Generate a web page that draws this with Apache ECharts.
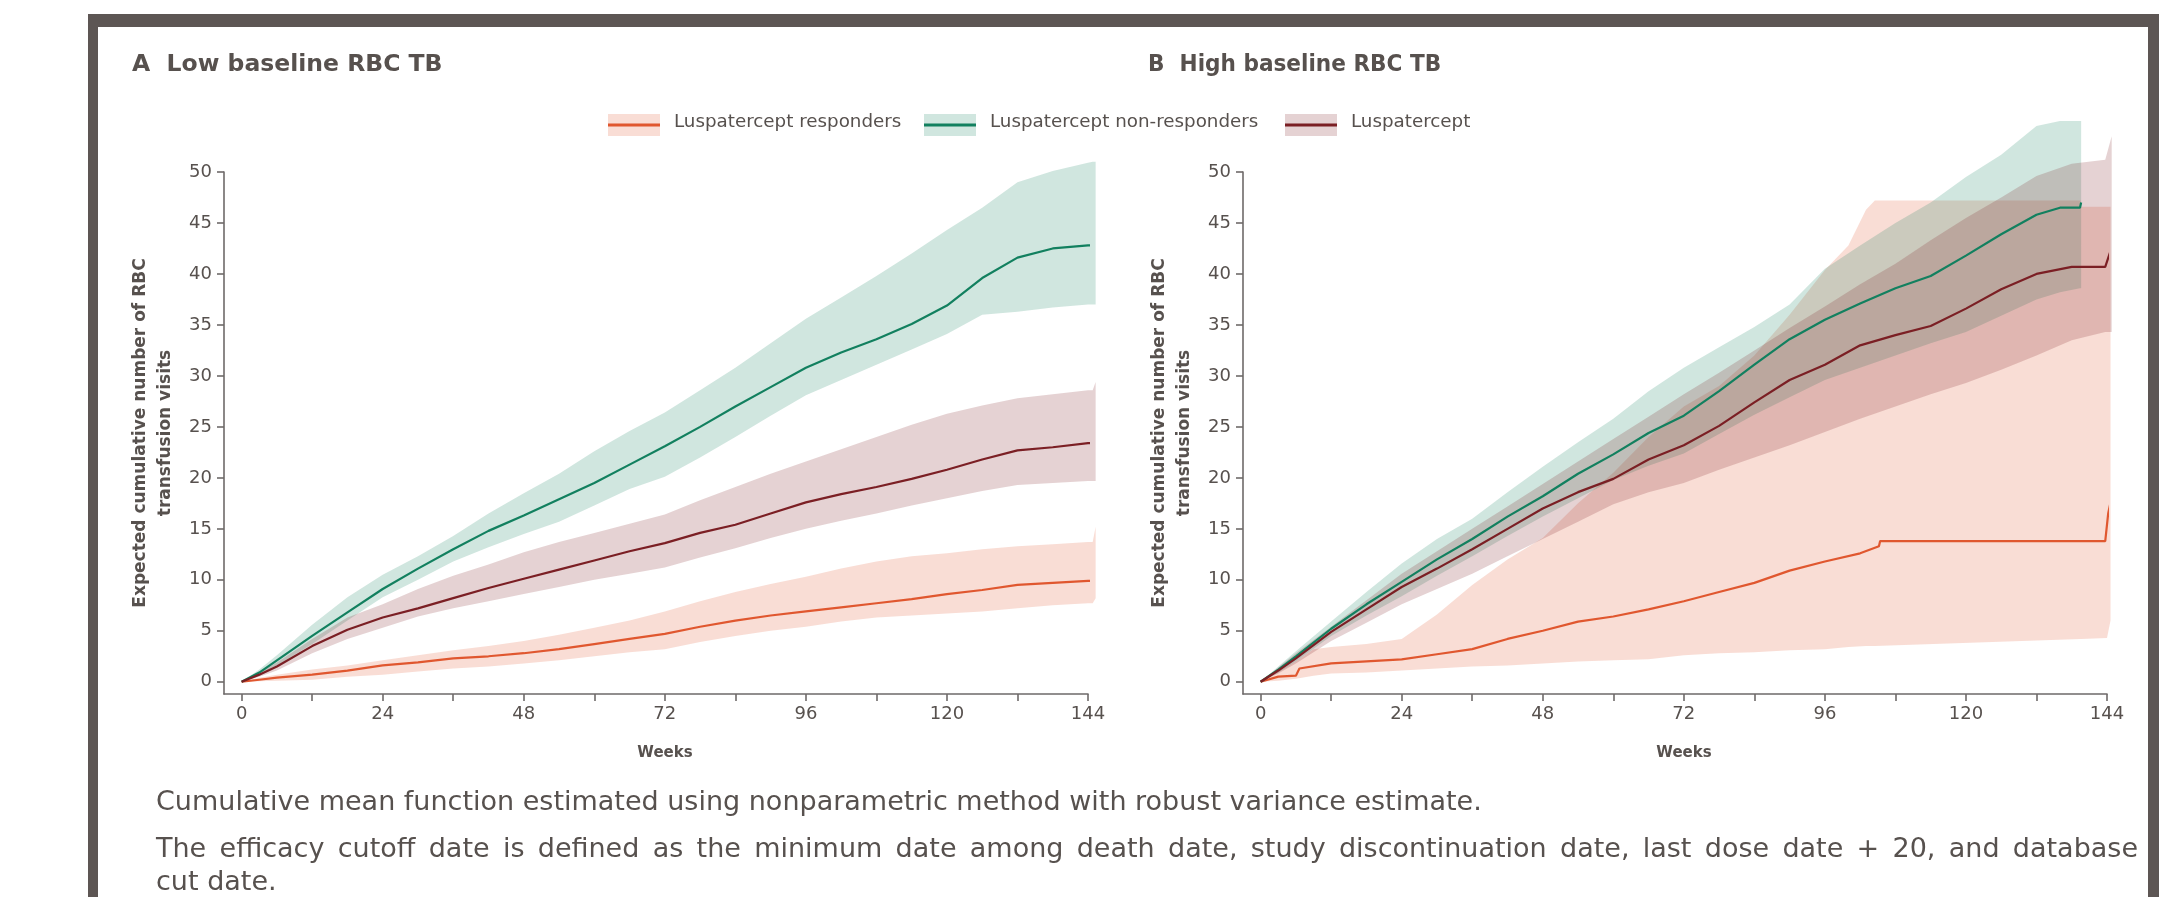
<!DOCTYPE html>
<html>
<head>
<meta charset="utf-8">
<script src="https://cdn.jsdelivr.net/npm/echarts@6/dist/echarts.min.js"></script>
<style>
html,body{margin:0;padding:0;background:#ffffff;}
#chart{width:2184px;height:897px;}
</style>
</head>
<body>
<div id="chart"></div>
<script>
// ---------------- DATA ----------------
const seriesNames = ['Luspatercept responders', 'Luspatercept non-responders', 'Luspatercept'];
const panelTitles = ['A  Low baseline RBC TB', 'B  High baseline RBC TB'];
const xTickValues = [0, 12, 24, 36, 48, 60, 72, 84, 96, 108, 120, 132, 144];
const xLabelValues = [0, 24, 48, 72, 96, 120, 144];
const yTickValues = [0, 5, 10, 15, 20, 25, 30, 35, 40, 45, 50];
const footnotes = [
  'Cumulative mean function estimated using nonparametric method with robust variance estimate.',
  'The efficacy cutoff date is defined as the minimum date among death date, study discontinuation date, last dose date + 20, and database',
  'cut date.'
];

// Panel A – low baseline RBC TB (weeks)
const weeksA = [0,3,6,12,18,24,30,36,42,48,54,60,66,72,78,84,90,96,102,108,114,120,126,132,138,144,144.8,145.3];
const aRespMean = [0,0.2,0.4,0.7,1.1,1.6,1.9,2.3,2.5,2.8,3.2,3.7,4.2,4.7,5.4,6.0,6.5,6.9,7.3,7.7,8.1,8.6,9.0,9.5,9.7,9.9,9.9,11.0];
const aRespHigh = [0,0.4,0.7,1.2,1.6,2.1,2.6,3.1,3.5,4.0,4.6,5.3,6.0,6.9,7.9,8.8,9.6,10.3,11.1,11.8,12.3,12.6,13.0,13.3,13.5,13.7,13.7,15.2];
const aRespLow  = [0,0.05,0.1,0.2,0.5,0.7,1.0,1.3,1.5,1.8,2.1,2.5,2.9,3.2,3.9,4.5,5.0,5.4,5.9,6.3,6.5,6.7,6.9,7.2,7.5,7.7,7.7,8.2];
const aNonMean  = [0,0.9,2.1,4.5,6.8,9.1,11.1,13.0,14.8,16.3,17.9,19.5,21.3,23.1,25.0,27.0,28.9,30.8,32.3,33.6,35.1,36.9,39.6,41.6,42.5,42.8,42.8,43.3];
const aNonHigh  = [0,1.2,2.6,5.6,8.3,10.5,12.3,14.3,16.5,18.5,20.4,22.6,24.6,26.4,28.6,30.8,33.2,35.6,37.7,39.8,42.0,44.3,46.5,49.0,50.1,50.9,51.0,51.0];
const aNonLow   = [0,0.6,1.6,3.7,6.0,8.3,10.0,11.8,13.2,14.5,15.7,17.3,18.9,20.1,22.0,24.0,26.1,28.1,29.6,31.1,32.6,34.1,36.0,36.3,36.7,37.0,37.0,37.0];
const aAllMean  = [0,0.7,1.5,3.5,5.1,6.3,7.2,8.2,9.2,10.1,11.0,11.9,12.8,13.6,14.6,15.4,16.5,17.6,18.4,19.1,19.9,20.8,21.8,22.7,23.0,23.4,23.4,24.4];
const aAllHigh  = [0,0.9,1.9,4.2,6.3,7.6,9.1,10.4,11.5,12.7,13.7,14.6,15.5,16.4,17.8,19.1,20.4,21.6,22.8,24.0,25.2,26.3,27.1,27.8,28.2,28.6,28.6,29.4];
const aAllLow   = [0,0.5,1.1,2.8,4.2,5.3,6.4,7.2,7.9,8.6,9.3,10.0,10.6,11.2,12.2,13.1,14.1,15.0,15.8,16.5,17.3,18.0,18.7,19.3,19.5,19.7,19.7,19.7];

// Panel B – high baseline RBC TB (weeks)
const bRespMeanWeeks = [0,3,6,6.6,12,18,24,30,36,42,48,54,60,66,72,78,84,90,96,102,105.2,105.4,143.7,144.2,144.6];
const bRespMean      = [0,0.5,0.6,1.3,1.8,2.0,2.2,2.7,3.2,4.2,5.0,5.9,6.4,7.1,7.9,8.8,9.7,10.9,11.8,12.6,13.3,13.8,13.8,16.5,17.6];
const bRespBandWeeks = [0,3,6,9,12,18,24,30,36,42,48,54,60,66,72,78,84,90,96,100,103,104.5,139.5,139.6,144,144.6];
const bRespHigh      = [0,1.0,2.0,3.2,3.4,3.7,4.2,6.6,9.5,12.0,14.1,17.5,20.5,24.0,27.0,29.0,32.0,36.0,40.4,42.8,46.3,47.2,47.2,46.6,46.6,46.6];
const bRespLow       = [0,0.1,0.3,0.6,0.8,0.9,1.1,1.3,1.5,1.6,1.8,2.0,2.1,2.2,2.6,2.8,2.9,3.1,3.2,3.4,3.5,3.5,4.2,4.2,4.3,6.0];
const bNonWeeks = [0,3,6,12,18,24,30,36,42,48,54,60,66,72,78,84,90,96,102,108,114,120,126,132,136,139.4,139.6];
const bNonMean  = [0,1.2,2.5,5.2,7.6,9.8,12.0,14.0,16.2,18.2,20.4,22.3,24.4,26.1,28.5,31.1,33.6,35.5,37.1,38.6,39.8,41.8,43.9,45.8,46.5,46.5,47.0];
const bNonHigh  = [0,1.5,3.0,5.9,8.8,11.6,14.0,16.0,18.6,21.1,23.5,25.8,28.5,30.8,32.8,34.8,37.0,40.5,42.8,45.0,47.0,49.5,51.7,54.5,55.0,55.0,55.0];
const bNonLow   = [0,0.9,2.0,4.5,6.5,8.4,10.4,12.3,14.3,16.2,18.0,19.8,21.2,22.4,24.3,26.2,27.9,29.6,30.8,32.0,33.2,34.3,35.9,37.5,38.2,38.6,38.6];
const bAllWeeks = [0,3,6,12,18,24,30,36,42,48,54,60,66,72,78,84,90,96,102,108,114,120,126,132,138,143.7,144.8];
const bAllMean  = [0,1.1,2.3,4.9,7.1,9.3,11.1,13.0,15.0,17.0,18.6,19.9,21.8,23.2,25.1,27.4,29.6,31.1,33.0,34.0,34.9,36.6,38.5,40.0,40.7,40.7,42.6];
const bAllHigh  = [0,1.4,2.8,5.4,8.0,10.6,12.8,15.0,17.2,19.4,21.6,23.8,26.0,28.2,30.3,32.5,34.7,36.8,39.0,41.0,43.3,45.5,47.5,49.6,50.8,51.2,53.5];
const bAllLow   = [0,0.8,1.8,4.0,5.8,7.6,9.1,10.6,12.3,14.0,15.7,17.4,18.6,19.5,20.8,22.0,23.2,24.5,25.8,27.0,28.2,29.3,30.6,32.0,33.5,34.3,34.3];

// ---------------- STYLE ----------------
const FONT = 'DejaVu Sans';
const TEXT = '#57514e';
const AXIS = '#6e6a69';
const FRAME = '#5d5654';
const COLORS = ['#e0572f', '#12805f', '#7b1f24'];
const FOOT_SIZE = 27;

function pairs(xs, ys) { return xs.map((x, i) => [x, ys[i]]); }

// confidence band: closed polygon (upper edge forward, lower edge back) in data coords
function band(g, xs, lo, hi, color) {
  const pts = pairs(xs, hi).concat(pairs(xs, lo).reverse());
  return {
    type: 'custom', xAxisIndex: g, yAxisIndex: g, silent: true, clip: false, z: 1,
    data: pts,
    renderItem: function (params, api) {
      if (params.dataIndex !== 0) return null;
      const poly = pts.map(p => api.coord(p));
      return { type: 'polygon', shape: { points: poly }, style: { fill: color, opacity: 0.2 } };
    }
  };
}
function curve(g, name, xs, ys, color) {
  return { type: 'line', name: name, xAxisIndex: g, yAxisIndex: g, data: pairs(xs, ys),
    symbol: 'none', lineStyle: { width: 2.2, color: color }, itemStyle: { color: color },
    clip: false, z: 3 };
}

function xAxisCfg(g) {
  return {
    type: 'value', gridIndex: g, min: -3, max: 144,
    name: 'Weeks', nameLocation: 'middle', nameGap: 52,
    nameTextStyle: { fontFamily: FONT, fontWeight: 'bold', fontSize: 15, color: TEXT, padding: [0, 0, 0, 18] },
    axisLine: { show: true, onZero: false, lineStyle: { color: AXIS, width: 1.6 } },
    axisTick: { show: true, length: 7, customValues: xTickValues, lineStyle: { color: AXIS, width: 1.6 } },
    axisLabel: { customValues: xLabelValues, margin: 11, fontFamily: FONT, fontSize: 18, color: TEXT },
    splitLine: { show: false }
  };
}
function yAxisCfg(g) {
  return {
    type: 'value', gridIndex: g, min: -1.2, max: 50,
    name: 'Expected cumulative number of RBC\ntransfusion visits', nameLocation: 'middle', nameGap: 46, nameRotate: 90,
    nameTextStyle: { fontFamily: FONT, fontWeight: 'bold', fontSize: 17, color: TEXT, lineHeight: 25, align: 'center' },
    axisLine: { show: true, onZero: false, lineStyle: { color: AXIS, width: 1.6 } },
    axisTick: { show: true, length: 7, customValues: yTickValues, lineStyle: { color: AXIS, width: 1.6 } },
    axisLabel: { customValues: yTickValues, margin: 12, fontFamily: FONT, fontSize: 18, color: TEXT },
    splitLine: { show: false }
  };
}

const series = [
  band(0, weeksA, aRespLow, aRespHigh, COLORS[0]),
  band(0, weeksA, aNonLow, aNonHigh, COLORS[1]),
  band(0, weeksA, aAllLow, aAllHigh, COLORS[2]),
  band(1, bRespBandWeeks, bRespLow, bRespHigh, COLORS[0]),
  band(1, bNonWeeks, bNonLow, bNonHigh, COLORS[1]),
  band(1, bAllWeeks, bAllLow, bAllHigh, COLORS[2]),
  curve(0, seriesNames[0], weeksA, aRespMean, COLORS[0]),
  curve(0, seriesNames[1], weeksA, aNonMean, COLORS[1]),
  curve(0, seriesNames[2], weeksA, aAllMean, COLORS[2]),
  curve(1, seriesNames[0], bRespMeanWeeks, bRespMean, COLORS[0]),
  curve(1, seriesNames[1], bNonWeeks, bNonMean, COLORS[1]),
  curve(1, seriesNames[2], bAllWeeks, bAllMean, COLORS[2])
];

// legend (drawn as graphic: band swatch + line + label)
const legendX = [608, 924, 1285];
const legendY = 125;
const legendGraphics = [];
seriesNames.forEach((n, i) => {
  legendGraphics.push({ type: 'rect', left: legendX[i], top: legendY - 11, shape: { width: 52, height: 22 },
    style: { fill: COLORS[i], opacity: 0.2 } });
  legendGraphics.push({ type: 'rect', left: legendX[i], top: legendY - 1.5, shape: { width: 52, height: 3 },
    style: { fill: COLORS[i] } });
  legendGraphics.push({ type: 'text', left: legendX[i] + 66, top: legendY - 12,
    style: { text: n, fontFamily: FONT, fontSize: 18.3, fill: TEXT } });
});

// justified footnote line (word by word, like the source paragraph)
function justified(text, left, top, width) {
  const ctx = document.createElement('canvas').getContext('2d');
  ctx.font = FOOT_SIZE + 'px "' + FONT + '"';
  const words = text.split(' ');
  const ws = words.map(w => ctx.measureText(w).width);
  const total = ws.reduce((a, b) => a + b, 0);
  const gap = (width - total) / (words.length - 1);
  let x = left;
  return words.map((w, i) => {
    const el = { type: 'text', left: x, top: top, style: { text: w, fontFamily: FONT, fontSize: FOOT_SIZE, fill: TEXT } };
    x += ws[i] + gap;
    return el;
  });
}

const chart = echarts.init(document.getElementById('chart'), null, { renderer: 'canvas' });
chart.setOption({
  backgroundColor: '#ffffff',
  animation: false,
  grid: [
    { left: 224, top: 172, width: 864, height: 522 },
    { left: 1243, top: 172, width: 864, height: 522 }
  ],
  xAxis: [xAxisCfg(0), xAxisCfg(1)],
  yAxis: [yAxisCfg(0), yAxisCfg(1)],
  series: series,
  graphic: [].concat(
    [
      { type: 'rect', left: 88, top: 14, shape: { width: 2071, height: 13 }, style: { fill: FRAME }, z: 100 },
      { type: 'rect', left: 88, top: 14, shape: { width: 10, height: 883 }, style: { fill: FRAME }, z: 100 },
      { type: 'rect', left: 2148, top: 14, shape: { width: 11, height: 883 }, style: { fill: FRAME }, z: 100 },
      { type: 'text', left: 132, top: 53, style: { text: panelTitles[0], fontFamily: FONT, fontWeight: 'bold', fontSize: 23.5, fill: TEXT } },
      { type: 'text', left: 1148, top: 53, scaleX: 0.92, style: { text: panelTitles[1], fontFamily: FONT, fontWeight: 'bold', fontSize: 23.5, fill: TEXT } },
      { type: 'text', left: 156, top: 789, style: { text: footnotes[0], fontFamily: FONT, fontSize: FOOT_SIZE, fill: TEXT } },
      { type: 'text', left: 156, top: 869, style: { text: footnotes[2], fontFamily: FONT, fontSize: FOOT_SIZE, fill: TEXT } }
    ],
    justified(footnotes[1], 156, 836, 1982),
    legendGraphics
  )
});
</script>
</body>
</html>
